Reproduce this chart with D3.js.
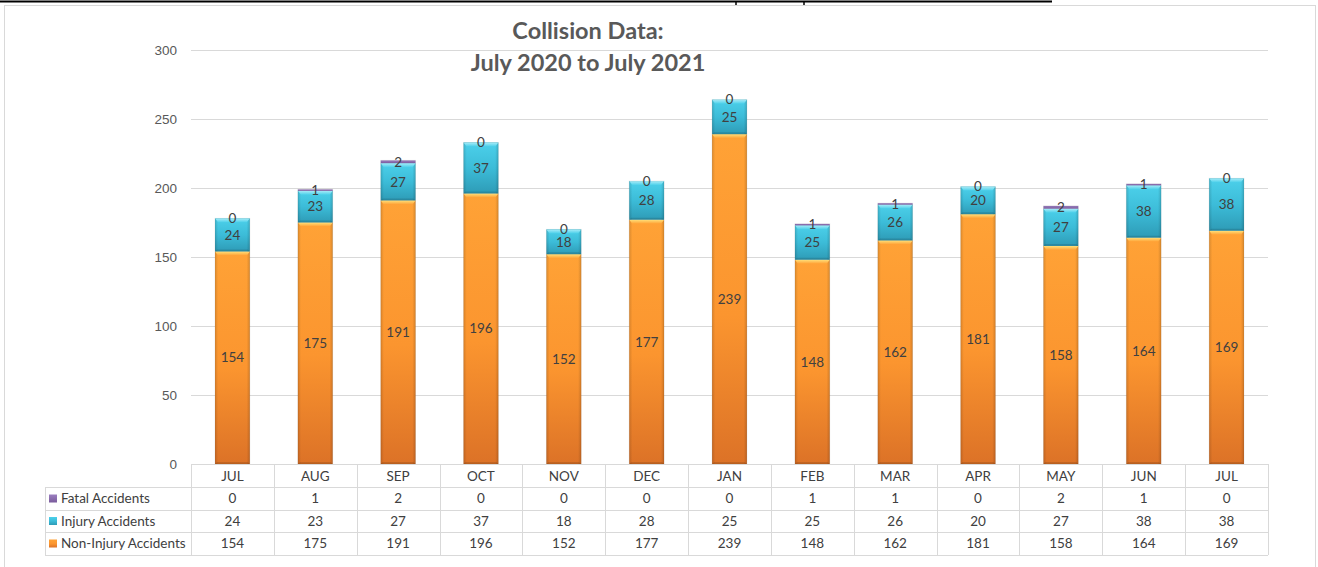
<!DOCTYPE html>
<html>
<head>
<meta charset="utf-8">
<script src="https://cdn.jsdelivr.net/npm/d3@7/dist/d3.min.js"></script>
<style>
  html, body { margin: 0; padding: 0; background: #fff; }
  svg { display: block; font-family: Lato, "Open Sans", sans-serif; }
</style>
</head>
<body>
<svg id="chart" width="1318" height="567"></svg>
<script>
// Monthly collision counts, July 2020 – July 2021
const months = ["JUL", "AUG", "SEP", "OCT", "NOV", "DEC", "JAN", "FEB", "MAR", "APR", "MAY", "JUN", "JUL"];
const nonInjury = [154, 175, 191, 196, 152, 177, 239, 148, 162, 181, 158, 164, 169];
const injury    = [24, 23, 27, 37, 18, 28, 25, 25, 26, 20, 27, 38, 38];
const fatal     = [0, 1, 2, 0, 0, 0, 0, 1, 1, 0, 2, 1, 0];
const yTicks = [0, 50, 100, 150, 200, 250, 300];

const seriesNames = ["Fatal Accidents", "Injury Accidents", "Non-Injury Accidents"];

const svg = d3.select("#chart");

const plot = { left: 191, right: 1268, top: 50, bottom: 464 };
const tableLeft = 45;

// frame around the chart
svg.append("rect").attr("x", 4.5).attr("y", 5.5).attr("width", 1311).attr("height", 570)
  .attr("fill", "#fff").attr("stroke", "#d9d9d9").attr("stroke-width", 1);
// rule running along the top edge
svg.append("line").attr("x1", 0).attr("x2", 1052).attr("y1", 1.5).attr("y2", 1.5)
  .attr("stroke", "#000").attr("stroke-width", 2);
[736, 804].forEach(x => svg.append("line").attr("x1", x).attr("x2", x).attr("y1", 1).attr("y2", 5)
  .attr("stroke", "#000").attr("stroke-width", 1.5));

// gradients
const defs = svg.append("defs");
function vGrad(id, stops) {
  const g = defs.append("linearGradient").attr("id", id).attr("x1", 0).attr("x2", 0).attr("y1", 0).attr("y2", 1);
  stops.forEach(s => g.append("stop").attr("offset", s[0]).attr("stop-color", s[1]));
}
function hGrad(id, stops) {
  const g = defs.append("linearGradient").attr("id", id).attr("x1", 0).attr("x2", 1).attr("y1", 0).attr("y2", 0);
  stops.forEach(s => g.append("stop").attr("offset", s[0]).attr("stop-color", s[1]).attr("stop-opacity", s[2]));
}
vGrad("gOrange", [[0, "#ffa236"], [0.55, "#fb952f"], [1, "#dc7227"]]);
vGrad("gTeal", [[0, "#4cd0ea"], [0.5, "#3cbcd8"], [1, "#2e9bb6"]]);
vGrad("gPurple", [[0, "#9b7fc0"], [1, "#7a5b9c"]]);
hGrad("gEdge", [[0, "#000", 0.14], [0.09, "#000", 0.0], [0.91, "#000", 0.0], [1, "#000", 0.16]]);
vGrad("gTopO", [[0, "#ffe07a"], [1, "#ffa236"]]);
vGrad("gTopT", [[0, "#a9ecf8"], [1, "#4cd0ea"]]);

const x = d3.scaleBand().domain(d3.range(months.length)).range([plot.left, plot.right]).paddingInner(0).paddingOuter(0);
const y = d3.scaleLinear().domain([0, 300]).range([plot.bottom, plot.top]);
const barW = x.bandwidth() * 0.42;

// gridlines and y tick labels
const yAxis = d3.axisLeft(y).tickValues(yTicks).tickSize(-(plot.right - plot.left)).tickPadding(14);
const yg = svg.append("g").attr("transform", `translate(${plot.left},0)`).call(yAxis);
yg.select(".domain").remove();
yg.selectAll(".tick line").attr("stroke", "#d9d9d9").attr("stroke-width", 1);
yg.selectAll(".tick text").attr("fill", "#595959").attr("font-size", 13.5).attr("font-family", null).attr("dy", "0.32em");
yg.selectAll(".tick").filter(d => d === 0).select("line").remove();

// stacked bars
const stacks = months.map((m, i) => {
  const a = nonInjury[i], b = injury[i], c = fatal[i];
  return { i, segs: [
    { key: "non", y0: 0, y1: a, v: a },
    { key: "inj", y0: a, y1: a + b, v: b },
    { key: "fat", y0: a + b, y1: a + b + c, v: c }
  ]};
});

const bars = svg.append("g");
stacks.forEach(st => {
  const cx = x(st.i) + x.bandwidth() / 2;
  const bx = cx - barW / 2;
  const g = bars.append("g");
  st.segs.forEach(s => {
    const top = y(s.y1), bot = y(s.y0), h = bot - top;
    if (s.key === "fat") {
      if (s.v > 0) {
        g.append("rect").attr("x", bx).attr("y", top).attr("width", barW).attr("height", Math.max(h, 1.5))
          .attr("fill", "url(#gPurple)");
      }
      return;
    }
    const fill = s.key === "non" ? "url(#gOrange)" : "url(#gTeal)";
    g.append("rect").attr("x", bx).attr("y", top).attr("width", barW).attr("height", h).attr("fill", fill);
    // soft shading at the sides
    g.append("rect").attr("x", bx).attr("y", top).attr("width", barW).attr("height", h).attr("fill", "url(#gEdge)");
    // bevelled top highlight
    const tg = s.key === "non" ? "url(#gTopO)" : "url(#gTopT)";
    g.append("path")
      .attr("d", `M${bx},${top} L${bx + barW},${top} L${bx + barW - 3},${top + 4} L${bx + 3},${top + 4} Z`)
      .attr("fill", tg);
    // darker bottom rim
    g.append("path")
      .attr("d", `M${bx},${bot} L${bx + barW},${bot} L${bx + barW - 2},${bot - 2} L${bx + 2},${bot - 2} Z`)
      .attr("fill", "#000").attr("opacity", 0.12);
  });
  // subtle outline
  const totalTop = y(st.segs[2].y1);
  g.append("rect").attr("x", bx).attr("y", totalTop).attr("width", barW).attr("height", plot.bottom - totalTop)
    .attr("fill", "none").attr("stroke", "#000").attr("stroke-opacity", 0.08).attr("stroke-width", 1);
});

// data labels centred in each segment
const labels = svg.append("g").attr("fill", "#404040").attr("font-size", 13.5).attr("text-anchor", "middle");
stacks.forEach(st => {
  const cx = x(st.i) + x.bandwidth() / 2;
  st.segs.forEach(s => {
    labels.append("text").attr("x", cx).attr("y", (y(s.y0) + y(s.y1)) / 2).attr("dy", "0.35em").text(s.v);
  });
});

// title
const title = svg.append("g").attr("fill", "#595959").attr("font-weight", "bold").attr("font-size", 23.5)
  .attr("text-anchor", "middle");
title.append("text").attr("x", 588).attr("y", 39).text("Collision Data:");
title.append("text").attr("x", 588).attr("y", 71).text("July 2020 to July 2021");

// data table beneath the plot
const tbl = svg.append("g");
const lineC = "#d9d9d9";
const rowsY = [464, 487, 510, 532, 555];
// horizontal rules
tbl.append("line").attr("x1", plot.left).attr("x2", plot.right).attr("y1", rowsY[0] + 0.5).attr("y2", rowsY[0] + 0.5).attr("stroke", lineC);
for (let r = 1; r < rowsY.length; r++) {
  tbl.append("line").attr("x1", tableLeft).attr("x2", plot.right).attr("y1", rowsY[r] + 0.5).attr("y2", rowsY[r] + 0.5).attr("stroke", lineC);
}
// vertical rules
tbl.append("line").attr("x1", tableLeft + 0.5).attr("x2", tableLeft + 0.5).attr("y1", rowsY[1]).attr("y2", rowsY[4]).attr("stroke", lineC);
for (let i = 0; i <= months.length; i++) {
  const xx = Math.round(plot.left + i * x.bandwidth()) + 0.5;
  tbl.append("line").attr("x1", xx).attr("x2", xx).attr("y1", rowsY[0]).attr("y2", rowsY[4]).attr("stroke", lineC);
}
const tText = tbl.append("g").attr("fill", "#404040").attr("font-size", 13.5);
months.forEach((m, i) => {
  tText.append("text").attr("x", x(i) + x.bandwidth() / 2).attr("y", (rowsY[0] + rowsY[1]) / 2 + 1)
    .attr("dy", "0.35em").attr("text-anchor", "middle").text(m);
});
const rowData = [fatal, injury, nonInjury];
const keyFill = ["url(#gPurple)", "url(#gTeal)", "url(#gOrange)"];
rowData.forEach((arr, r) => {
  const cy = (rowsY[r + 1] + rowsY[r + 2]) / 2;
  tbl.append("rect").attr("x", 49).attr("y", cy - 4).attr("width", 8).attr("height", 8).attr("fill", keyFill[r]);
  tText.append("text").attr("x", 61).attr("y", cy).attr("dy", "0.35em").text(seriesNames[r]);
  arr.forEach((v, i) => {
    tText.append("text").attr("x", x(i) + x.bandwidth() / 2).attr("y", cy).attr("dy", "0.35em")
      .attr("text-anchor", "middle").text(v);
  });
});
</script>
</body>
</html>
